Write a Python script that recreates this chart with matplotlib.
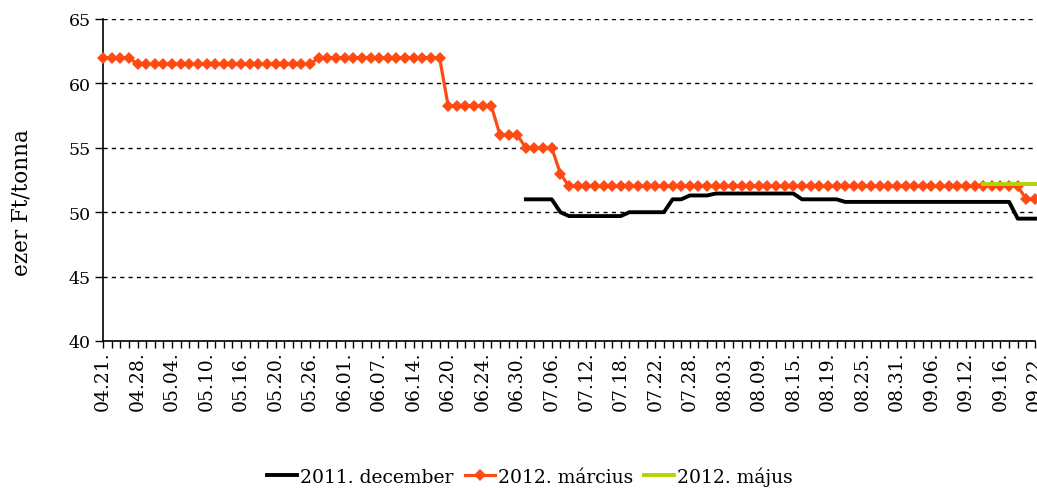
import numpy as np
import matplotlib
matplotlib.use("Agg")
import matplotlib.pyplot as plt

# x axis: trading days, labelled every 4th day
tick_labels = ["04.21.", "04.28.", "05.04.", "05.10.", "05.16.", "05.20.", "05.26.",
               "06.01.", "06.07.", "06.14.", "06.20.", "06.24.", "06.30.", "07.06.",
               "07.12.", "07.18.", "07.22.", "07.28.", "08.03.", "08.09.", "08.15.",
               "08.19.", "08.25.", "08.31.", "09.06.", "09.12.", "09.16.", "09.22."]
n_days = 109

# 2012. március (from day 0)
marcius = ([62.0] * 4 + [61.5] * 21 + [62.0] * 15 + [58.25] * 6 + [56.0] * 3
           + [55.0] * 4 + [53.0] + [52.0] * 53 + [51.0] * 2)

# 2011. december (starts at day 49)
december_start = 49
december = ([51.0] * 4 + [50.0] + [49.7] * 7 + [50.0] * 5 + [51.0] * 2
            + [51.3] * 3 + [51.45] * 10 + [51.0] * 5 + [50.8] * 20 + [49.5] * 3)

# 2012. május (starts at day 102)
majus_start = 102
majus = [52.2] * 7

plt.rcParams['font.family'] = ['DejaVu Serif']

fig = plt.figure(figsize=(10.37, 4.89), dpi=100)
ax = fig.add_axes([103 / 1037, 1 - 342 / 489, (1035 - 103) / 1037, (342 - 20) / 489])

x_dec = np.arange(december_start, december_start + len(december))
x_mar = np.arange(len(marcius))
x_maj = np.arange(majus_start, majus_start + len(majus))

ax.plot(x_dec, december, color="black", lw=2.8, solid_joinstyle="round",
        label="2011. december", clip_on=False, zorder=3)
ax.plot(x_mar, marcius, color="#FF4A14", lw=2.3, marker="D", markersize=6.5,
        markeredgewidth=0, label="2012. március", clip_on=False, zorder=4)
ax.plot(x_maj, majus, color="#B4D200", lw=2.8, label="2012. május",
        clip_on=False, zorder=5)

ax.set_xlim(0, n_days - 1)
ax.set_ylim(40, 65)
ax.set_yticks(np.arange(40, 66, 5))
ax.grid(axis="y", color="black", linestyle=(0, (3, 3)), lw=1.0)
ax.set_axisbelow(True)

ax.set_xticks(np.arange(0, n_days, 4))
ax.set_xticklabels(tick_labels, rotation=90, fontsize=13.5)
ax.set_xticks(np.arange(n_days), minor=True)
ax.tick_params(axis="x", which="both", direction="out", length=5, width=1, pad=2)
ax.tick_params(axis="y", direction="out", length=6, width=1, labelsize=12.5, pad=3)

for s in ("top", "right"):
    ax.spines[s].set_visible(False)
for s in ("left", "bottom"):
    ax.spines[s].set_linewidth(1.2)

fig.text(22 / 1037, 1 - 203 / 489, "ezer Ft/tonna", rotation=90,
         ha="center", va="center", fontsize=15.5)

fig.legend(loc="center", bbox_to_anchor=(530 / 1037, 1 - 477 / 489), ncol=3,
           frameon=False, fontsize=13.5, handlelength=1.6, handletextpad=0.15,
           columnspacing=0.6)

fig.savefig("out.png", dpi=100)
